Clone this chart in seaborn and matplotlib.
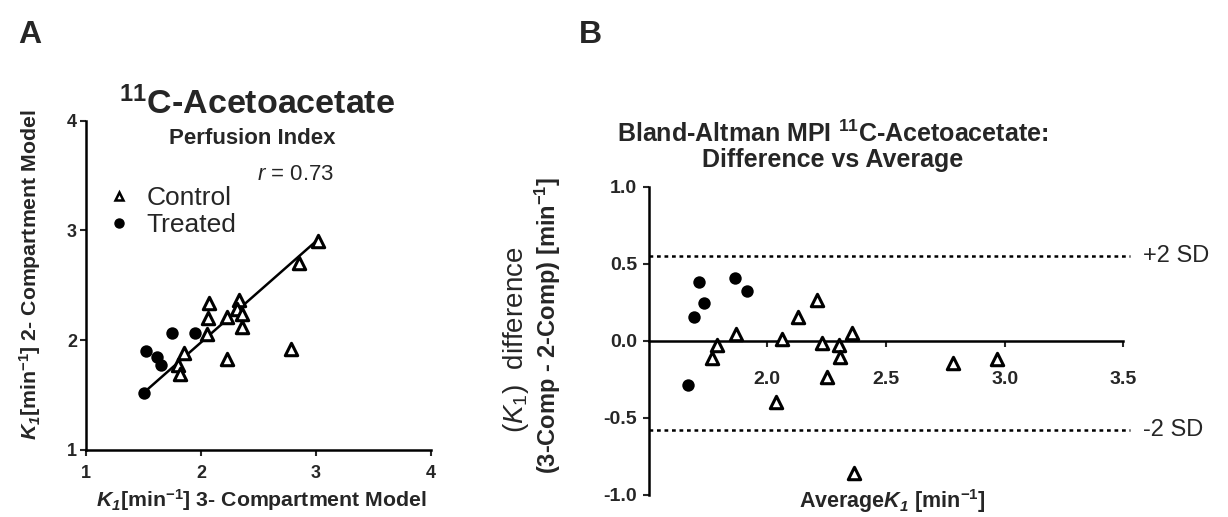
import numpy as np
import pandas as pd
import seaborn as sns
import matplotlib.pyplot as plt
from matplotlib.lines import Line2D

sns.set_theme(style="white")
plt.rcParams["font.family"] = ["Liberation Sans", "DejaVu Sans"]
plt.rcParams["mathtext.fontset"] = "custom"
plt.rcParams["mathtext.rm"] = "Liberation Sans"
plt.rcParams["mathtext.it"] = "Liberation Sans:italic"
plt.rcParams["mathtext.bf"] = "Liberation Sans:bold"
plt.rcParams["mathtext.bfit"] = "Liberation Sans:bold:italic"

# Panel A: K1 from 3-compartment (x) vs 2-compartment (y) model
ctrl_3c = [2.07, 2.06, 2.05, 1.85, 1.80, 1.82, 2.23, 2.23, 2.33, 2.31, 2.36, 2.36, 2.78, 3.02, 2.85]
ctrl_2c = [2.34, 2.20, 2.06, 1.88, 1.77, 1.69, 1.83, 2.21, 2.37, 2.28, 2.24, 2.12, 1.92, 2.90, 2.70]
trt_3c = [1.50, 1.52, 1.62, 1.65, 1.75, 1.95]
trt_2c = [1.52, 1.90, 1.85, 1.77, 2.07, 2.07]
# fitted line as drawn in the figure
fit_x = [1.50, 3.02]
fit_y = [1.52, 2.92]
r_value = 0.73

# Panel B: Bland-Altman (average vs difference)
ctrl_avg = [1.787, 1.766, 1.867, 2.061, 2.131, 2.208, 2.229, 2.250, 2.303, 2.306, 2.356, 2.037, 2.781, 2.966, 2.364]
ctrl_diff = [-0.028, -0.114, 0.044, 0.011, 0.152, 0.264, -0.013, -0.234, -0.028, -0.104, 0.052, -0.396, -0.143, -0.121, -0.861]
trt_avg = [1.712, 1.864, 1.913, 1.733, 1.691, 1.665]
trt_diff = [0.383, 0.405, 0.325, 0.243, 0.156, -0.288]
sd_upper = 0.55
sd_lower = -0.58

dfA = pd.DataFrame({
    "x": ctrl_3c + trt_3c,
    "y": ctrl_2c + trt_2c,
    "group": ["Control"] * len(ctrl_3c) + ["Treated"] * len(trt_3c),
})
dfB = pd.DataFrame({
    "avg": ctrl_avg + trt_avg,
    "diff": ctrl_diff + trt_diff,
    "group": ["Control"] * len(ctrl_avg) + ["Treated"] * len(trt_avg),
})

W, H = 1228, 517
fig = plt.figure(figsize=(W / 100, H / 100), dpi=100)


def fx(px):
    return px / W


def fy(py):
    return 1 - py / H


axA = fig.add_axes([fx(86), fy(450), fx(431) - fx(86), fy(120.7) - fy(450)])
axB = fig.add_axes([fx(648.7), fy(494.7), fx(1123.3) - fx(648.7), fy(186.7) - fy(494.7)])

tri_kw = dict(marker="^", s=80, facecolor="white", edgecolor="black", linewidth=2.2, zorder=3)
dot_kw = dict(marker="o", s=80, color="black", edgecolor="black", linewidth=0, zorder=3)

# ---- Panel A ----
sns.lineplot(x=fit_x, y=fit_y, color="black", lw=1.8, ax=axA)
sns.scatterplot(data=dfA[dfA.group == "Control"], x="x", y="y", ax=axA, **tri_kw)
sns.scatterplot(data=dfA[dfA.group == "Treated"], x="x", y="y", ax=axA, **dot_kw)
axA.set_xlim(1, 4)
axA.set_ylim(1, 4)
axA.set_xticks([1, 2, 3, 4])
axA.set_yticks([1, 2, 3, 4])
axA.set_xlabel("")
axA.set_ylabel("")
for s in ["top", "right"]:
    axA.spines[s].set_visible(False)
for s in ["left", "bottom"]:
    axA.spines[s].set_linewidth(1.8)
    axA.spines[s].set_color("black")
axA.tick_params(axis="x", direction="out", length=4.5, width=1.5, labelsize=13, pad=6, bottom=True)
axA.tick_params(axis="y", direction="out", length=4.5, width=1.5, labelsize=13, pad=2, left=True)
for lab in axA.get_xticklabels() + axA.get_yticklabels():
    lab.set_fontweight("bold")

fig.text(fx(257), fy(104), r"$^{\mathbf{11}}$C-Acetoacetate", ha="center", va="center",
         fontsize=24.5, fontweight="bold")
fig.text(fx(252), fy(138.5), "Perfusion Index", ha="center", va="center",
         fontsize=16, fontweight="bold")
fig.text(fx(257), fy(175), r"$r$ = %.2f" % r_value, ha="left", va="center", fontsize=16)
fig.text(fx(261), fy(500), r"$\mathbfit{K_1}$[min$^{\mathbf{-1}}$] 3- Compartment Model",
         ha="center", va="center", fontsize=15.3, fontweight="bold")
fig.text(fx(30), fy(275), r"$\mathbfit{K_1}$[min$^{\mathbf{-1}}$] 2- Compartment Model",
         ha="center", va="center", rotation=90, fontsize=15.3, fontweight="bold")

handles = [
    Line2D([], [], marker="^", ls="none", mfc="white", mec="black", mew=1.8, ms=6),
    Line2D([], [], marker="o", ls="none", mfc="black", mec="black", ms=6.5),
]
fig.legend(handles, ["Control", "Treated"], loc="upper left",
           bbox_to_anchor=(fx(90), fy(173)), frameon=False, fontsize=19,
           handletextpad=0.45, labelspacing=0.12, handlelength=1.2, borderpad=0)

# ---- Panel B ----
sns.scatterplot(data=dfB[dfB.group == "Control"], x="avg", y="diff", ax=axB, **tri_kw)
sns.scatterplot(data=dfB[dfB.group == "Treated"], x="avg", y="diff", ax=axB, **dot_kw)
axB.hlines([sd_upper, sd_lower], 1.5, 3.53, colors="black", linestyles=(0, (1.5, 1.5)),
           lw=1.8, clip_on=False)
axB.set_xlim(1.5, 3.5)
axB.set_ylim(-1.0, 1.0)
axB.set_xticks([2.0, 2.5, 3.0, 3.5])
axB.set_xticklabels(["2.0", "2.5", "3.0", "3.5"])
axB.set_yticks([-1.0, -0.5, 0.0, 0.5, 1.0])
axB.set_yticklabels(["-1.0", "-0.5", "0.0", "0.5", "1.0"])
axB.set_xlabel("")
axB.set_ylabel("")
axB.spines["bottom"].set_position(("data", 0))
for s in ["top", "right"]:
    axB.spines[s].set_visible(False)
for s in ["left", "bottom"]:
    axB.spines[s].set_linewidth(1.8)
    axB.spines[s].set_color("black")
axB.tick_params(axis="y", direction="out", length=4.5, width=1.5, labelsize=14, pad=4, left=True)
axB.tick_params(axis="x", direction="out", length=4.5, width=1.5, labelsize=14, pad=17, bottom=True)
for lab in axB.get_xticklabels() + axB.get_yticklabels():
    lab.set_fontweight("bold")

fig.text(fx(1143), fy(256), "+2 SD", ha="left", va="center", fontsize=17)
fig.text(fx(1143), fy(430), "-2 SD", ha="left", va="center", fontsize=17)
fig.text(fx(833), fy(146), "Bland-Altman MPI $^{\\mathbf{11}}$C-Acetoacetate:\nDifference vs Average",
         ha="center", va="center", fontsize=18, fontweight="bold", linespacing=1.05)
fig.text(fx(892), fy(501), r"Average$\mathbfit{K_1}$ [min$^{\mathbf{-1}}$]",
         ha="center", va="center", fontsize=15.5, fontweight="bold")
fig.text(fx(516), fy(340), r"($K_1$)  difference", ha="center", va="center",
         rotation=90, fontsize=20)
fig.text(fx(548), fy(325), r"(3-Comp - 2-Comp) [min$^{\mathbf{-1}}$]", ha="center", va="center",
         rotation=90, fontsize=17, fontweight="bold")

fig.text(fx(30), fy(35), "A", ha="center", va="center", fontsize=23, fontweight="bold")
fig.text(fx(590), fy(35), "B", ha="center", va="center", fontsize=23, fontweight="bold")

fig.savefig("out.png", dpi=100)
